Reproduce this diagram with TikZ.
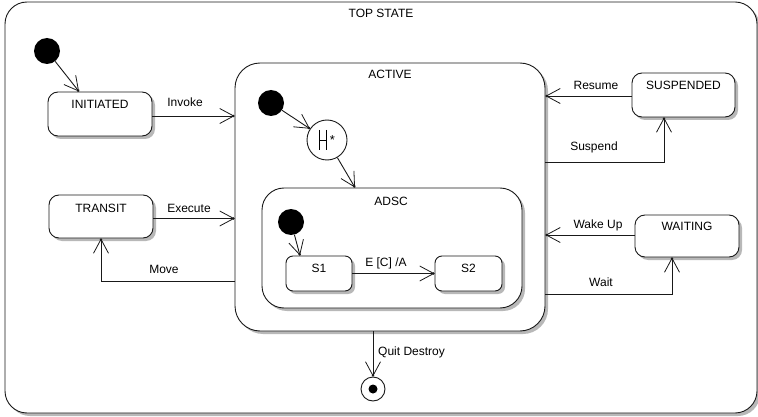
\documentclass[tikz,border=0pt]{standalone}
\usepackage{fontspec}
\setmainfont{Liberation Sans}
\usetikzlibrary{arrows.meta,calc,shadows}
\begin{document}
\begin{tikzpicture}[x=1pt,y=-1pt,
  every node/.style={font=\fontsize{12}{14}\selectfont},
  ln/.style={line width=0.9pt, draw=black!90},
  stbox/.style={ln, rectangle, rounded corners=#1, fill=white, inner sep=0pt,
    general shadow={fill=black!28, shadow xshift=3pt, shadow yshift=-3pt}},
  dotnode/.style={circle, fill=black, minimum size=26pt, inner sep=0pt},
  txt/.style={anchor=base, inner sep=0pt},
  arr/.style={ln, -{Straight Barb[length=14pt,width=15pt,line width=0.8pt,sep=-2.5pt] Circle[length=2.5pt]}}
]
\useasboundingbox (0,0) rectangle (758,417);

% containers
\node[stbox=22pt, minimum width=752pt, minimum height=411pt] (top) at (381,207.5) {};
\node[txt] (tTop) at (381,18) {TOP STATE};

\node[stbox=25pt, minimum width=310pt, minimum height=268pt] (active) at (390,197) {};
\node[txt] (tActive) at (390,79) {ACTIVE};

\node[stbox=22pt, minimum width=260pt, minimum height=120pt] (adsc) at (392,248) {};
\node[txt] (tAdsc) at (391,205) {ADSC};

% simple states
\node[stbox=10pt, minimum width=104pt, minimum height=44pt] (initiated) at (100,114) {};
\node[txt] (tInit) at (100,109) {INITIATED};
\node[stbox=10pt, minimum width=104pt, minimum height=43pt] (transit) at (101,216.5) {};
\node[txt] (tTransit) at (101,212) {TRANSIT};
\node[stbox=10pt, minimum width=103pt, minimum height=44pt] (suspended) at (683.5,95) {};
\node[txt] (tSusp) at (683.5,90) {SUSPENDED};
\node[stbox=10pt, minimum width=104pt, minimum height=42pt] (waiting) at (687,236) {};
\node[txt] (tWait) at (687,230) {WAITING};
\node[stbox=7pt, minimum width=66pt, minimum height=35pt] (s1) at (319,273.5) {};
\node[txt] (tS1) at (319,272) {S1};
\node[stbox=7pt, minimum width=67pt, minimum height=35pt] (s2) at (468.5,273.5) {};
\node[txt] (tS2) at (468.5,272) {S2};

% pseudo states
\node[dotnode] (i1) at (47,51) {};
\node[dotnode] (i2) at (271,103) {};
\node[dotnode] (i3) at (291,222) {};
\node[circle, ln, fill=white, minimum size=40pt, inner sep=0pt] (hist) at (327,140) {};
\draw[line width=0.8pt] (319,130) -- (319,150) (326,130) -- (326,150) (319,140) -- (326,140);
\node[txt, font=\fontsize{13}{13}\selectfont] (hstar) at (332.5,145) {*};
\node[circle, ln, fill=white, minimum size=24pt, inner sep=0pt] (fin) at (373,389) {};
\fill (fin) circle (4.5);

% connectors
\draw[arr] (i1) -- ($(initiated.north west)!0.3!(initiated.north east)$);
\draw[arr] ([yshift=-2pt]initiated.east) -- ([yshift=-2pt]initiated.east -| active.west);
\node[txt] (lInvoke) at (185,107) {Invoke};
\draw[arr] ([yshift=-2pt]transit.east) -- ([yshift=-2pt]transit.east -| active.west);
\node[txt] (lExec) at (189,212) {Execute};
\draw[arr] ([yshift=-84pt]active.west) -| (transit.south);
\node[txt] (lMove) at (164,273) {Move};

\draw[arr] ([yshift=-1pt]suspended.west) -- ([yshift=-1pt]suspended.west -| active.east);
\node[txt] (lResume) at (596,90) {Resume};
\draw[arr] ([yshift=35pt]active.east) -| ([xshift=-19.5pt]suspended.south);
\node[txt] (lSuspend) at (594,151) {Suspend};
\draw[arr] ([yshift=1pt]waiting.west) -- ([yshift=1pt]waiting.west -| active.east);
\node[txt] (lWake) at (598,229) {Wake Up};
\draw[arr] ([yshift=-97pt]active.east) -| ([xshift=-15pt]waiting.south);
\node[txt] (lWaitT) at (601,286) {Wait};

\draw[arr] (i2) -- (hist);
\draw[arr] (hist) -- ([xshift=-37pt]adsc.north);
\draw[arr] (i3) -- ([xshift=-19pt]s1.north);
\draw[arr] (s1) -- (s2);
\node[txt] (lE) at (386,266) {E [C] /A};

\draw[arr] (fin |- active.south) -- (fin);
\node[txt, anchor=base west] (lQuit) at (378,355) {Quit Destroy};
\end{tikzpicture}
\end{document}
